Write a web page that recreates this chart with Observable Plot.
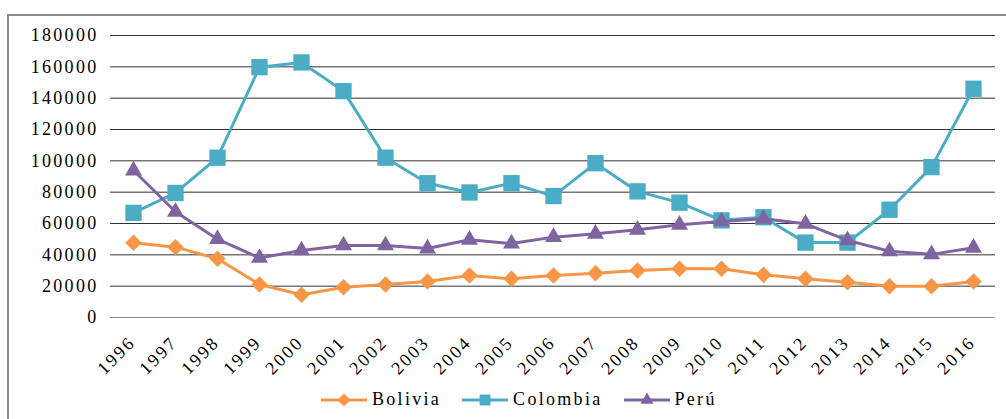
<!DOCTYPE html>
<html>
<head>
<meta charset="utf-8">
<script src="https://cdn.jsdelivr.net/npm/d3@7"></script>
<script src="https://cdn.jsdelivr.net/npm/@observablehq/plot@0.6"></script>
<style>
  html, body { margin: 0; padding: 0; background: #fff; }
  body { position: relative; width: 1006px; height: 419px; overflow: hidden; font-family: "Liberation Serif", serif; }
  #frame { position: absolute; left: 7px; top: 14px; width: 1010px; height: 420px; border-top: 2px solid #8c8c8c; border-left: 2px solid #8c8c8c; box-sizing: border-box; }
  #chart { position: absolute; left: 0; top: 0; }
  #chart svg text { letter-spacing: 2.3px; }
  #legend { position: absolute; left: 320px; top: 389px; display: flex; align-items: center; font-size: 18px; letter-spacing: 2.3px; color: #000; }
  #legend .item { display: flex; align-items: center; }
  #legend .item span { margin-left: 4px; margin-right: 20px; }
</style>
</head>
<body>
<div id="frame"></div>
<div id="chart"></div>
<div id="legend"></div>
<script>
const years = ["1996","1997","1998","1999","2000","2001","2002","2003","2004","2005","2006","2007","2008","2009","2010","2011","2012","2013","2014","2015","2016"];
const bolivia  = [47700, 44900, 37500, 21100, 14500, 19300, 21100, 23000, 26800, 24700, 26800, 28300, 30000, 31100, 31100, 27300, 24700, 22500, 20000, 20000, 23000];
const colombia = [66800, 79500, 102000, 159800, 162800, 144500, 102000, 85700, 79800, 85700, 77500, 98500, 80500, 73300, 62000, 64000, 47800, 47800, 68800, 96000, 146000];
const peru     = [93800, 67500, 50000, 38000, 42800, 46000, 46000, 44000, 49600, 47200, 51300, 53400, 56000, 59200, 61300, 63000, 59800, 49200, 42300, 40300, 44500];
const seriesNames = ["Bolivia", "Colombia", "Perú"];
const seriesValues = [bolivia, colombia, peru];
const colors = ["#F79646", "#4BACC6", "#8064A2"];
const symbols = ["diamond2", "square2", "triangle2"];
const radii = [7.4, 10.4, 8.1];
const yTicks = [0, 20000, 40000, 60000, 80000, 100000, 120000, 140000, 160000, 180000];

const seriesMarks = seriesNames.flatMap((name, k) => {
  const rows = years.map((year, i) => ({year, value: seriesValues[k][i], series: name}));
  return [
    Plot.line(rows, {x: "year", y: "value", stroke: colors[k], strokeWidth: 3, strokeLinejoin: "round"}),
    Plot.dot(rows, {x: "year", y: "value", symbol: symbols[k], fill: colors[k], stroke: "none", r: radii[k]})
  ];
});

const chart = Plot.plot({
  width: 1006,
  height: 380,
  marginLeft: 110,
  marginRight: 11,
  marginTop: 35,
  marginBottom: 63,
  style: {fontFamily: "Liberation Serif", fontSize: "18px", color: "#000", background: "transparent", overflow: "visible"},
  x: {type: "point", domain: years, padding: 0.5, label: null},
  y: {domain: [0, 180000], label: null},
  marks: [
    Plot.gridY(yTicks.filter(d => d > 0), {stroke: "#333", strokeOpacity: 1, strokeWidth: 1}),
    Plot.ruleY([0], {stroke: "#8c8c8c", strokeWidth: 1}),
    Plot.axisY(yTicks, {tickSize: 0, tickPadding: 12, tickFormat: d => String(d), fontSize: 18, label: null}),
    Plot.axisX(years, {tickRotate: -45, tickSize: 0, tickPadding: 22, dx: -1, fontSize: 18, label: null}),
    ...seriesMarks
  ]
});
document.getElementById("chart").appendChild(chart);

// Legend
const legend = d3.select("#legend");
seriesNames.forEach((name, k) => {
  const item = legend.append("div").attr("class", "item");
  const svg = item.append("svg").attr("width", 48).attr("height", 20);
  svg.append("line").attr("x1", 1).attr("x2", 47).attr("y1", 10).attr("y2", 10)
    .attr("stroke", colors[k]).attr("stroke-width", 3);
  const symType = [d3.symbolDiamond2, d3.symbolSquare2, d3.symbolTriangle2][k];
  const size = [110, 150, 120][k];
  svg.append("path").attr("transform", "translate(24,10)")
    .attr("d", d3.symbol(symType, size)()).attr("fill", colors[k]);
  item.append("span").text(name);
});
</script>
</body>
</html>
